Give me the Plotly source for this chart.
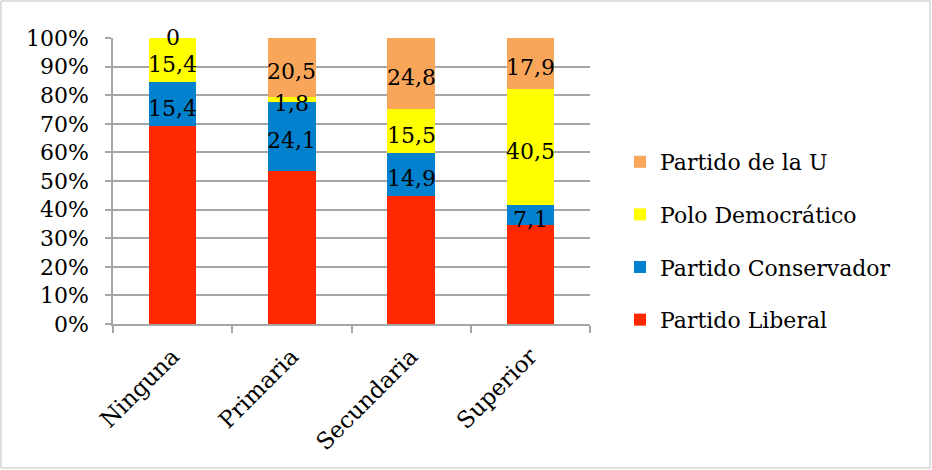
import plotly.graph_objects as go

categories = ["Ninguna", "Primaria", "Secundaria", "Superior"]
liberal = [69.2, 53.6, 44.8, 34.5]
conservador = [15.4, 24.1, 14.9, 7.1]
polo = [15.4, 1.8, 15.5, 40.5]
partido_u = [0.0, 20.5, 24.8, 17.9]
y_ticks = [0, 10, 20, 30, 40, 50, 60, 70, 80, 90, 100]
y_ticktext = [f"{v}%" for v in y_ticks]

series = [
    ("Partido Liberal", liberal, "#FF2800", False),
    ("Partido Conservador", conservador, "#0281CE", True),
    ("Polo Democrático", polo, "#FFFF00", True),
    ("Partido de la U", partido_u, "#F9A65A", True),
]

FONT = "DejaVu Serif"
fig = go.Figure()
base = [0.0] * len(categories)
for i, (name, vals, color, show_lbl) in enumerate(series):
    fig.add_trace(go.Bar(
        name=name, x=categories, y=vals, marker_color=color,
        marker_line_width=0, legendgroup=name, legendrank=len(series) - i,
        hoverinfo="skip",
    ))
    if show_lbl:
        for c, b, v in zip(categories, base, vals):
            fig.add_annotation(
                x=c, y=min(round(b + v / 2, 6), 100), xref="x", yref="y",
                text=f"{v:g}".replace(".", ","), showarrow=False,
                yshift=(-4 if v > 0 else 1),
                font=dict(family=FONT, size=22, color="black"),
            )
    base = [b + v for b, v in zip(base, vals)]

L, R, T, B = 113, 342, 38, 146
W, H = 932, 470
pw, ph = W - L - R, H - T - B

def px(x):
    return (x - L) / pw

def py(y):
    return (H - B - y) / ph

fig.add_shape(type="rect", xref="paper", yref="paper",
              x0=px(1), x1=px(930), y0=py(468), y1=py(1),
              line=dict(color="#BFBFBF", width=1), layer="below")

fig.update_layout(
    barmode="stack", bargap=0.6,
    width=W, height=H,
    margin=dict(l=L, r=R, t=T, b=B),
    paper_bgcolor="white", plot_bgcolor="white",
    font=dict(family=FONT, size=22, color="black"),
    legend=dict(x=px(620), y=py(141), xanchor="left", yanchor="top",
                traceorder="grouped", tracegroupgap=21,
                font=dict(family=FONT, size=22, color="black"),
                itemwidth=30),
    xaxis=dict(showline=True, linecolor="#A6A6A6", linewidth=1.5,
               ticks="outside", tickson="boundaries", ticklen=7,
               tickcolor="#A6A6A6", tickwidth=1.5, tickangle=-45,
               ticklabelstandoff=8,
               tickfont=dict(family=FONT, size=23)),
    yaxis=dict(range=[0, 100], tickvals=y_ticks, ticktext=y_ticktext,
               showline=True, linecolor="#A6A6A6", linewidth=1.5,
               showgrid=True, gridcolor="#A6A6A6", gridwidth=1.5,
               ticks="outside", ticklen=6, tickcolor="#A6A6A6", tickwidth=1.5,
               ticklabelstandoff=12,
               tickfont=dict(family=FONT, size=22), zeroline=False),
)

fig.write_html("out.html")
